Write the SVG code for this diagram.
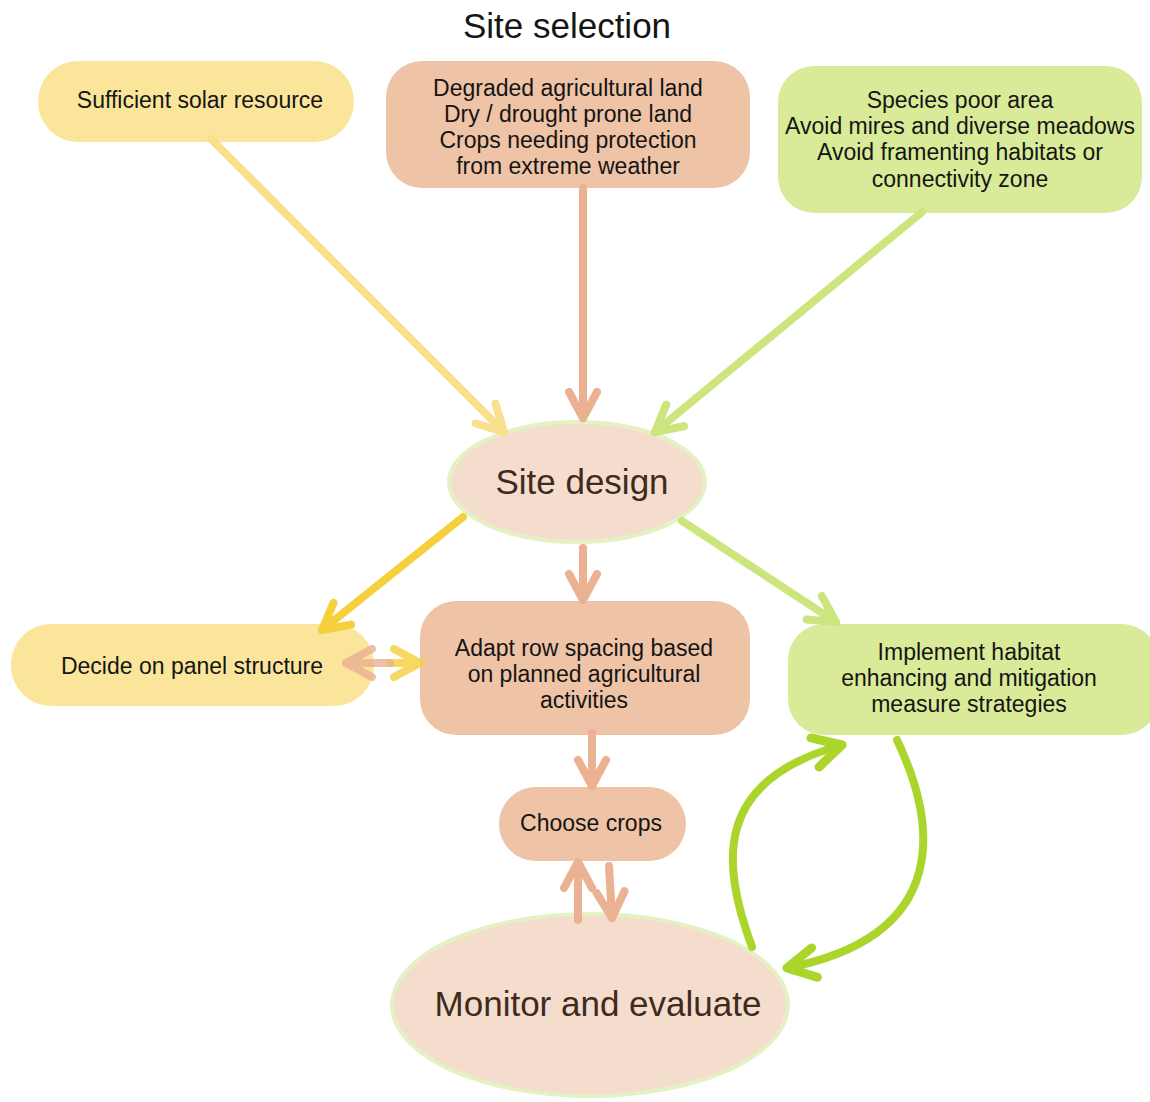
<svg xmlns="http://www.w3.org/2000/svg" width="1150" height="1102" viewBox="0 0 1150 1102">
<style>
text{font-family:"Liberation Sans",Arial,sans-serif;text-anchor:middle;fill:#151515}
.t{font-size:23px}
.big{font-size:35px;fill:#3f2a1e}
.y{fill:#fbe59b}
.s{fill:#efc3a5}
.g{fill:#d9eb98}
.el{fill:#f5ddce;stroke:#e4f1c2;stroke-width:4}
.c{fill:none;stroke-width:8;stroke-linecap:round}
</style>
<defs>
<marker id="mY" markerUnits="userSpaceOnUse" viewBox="-40 -20 44 40" refX="0" refY="0" markerWidth="44" markerHeight="40" orient="auto" overflow="visible"><path d="M-26 -14 L0 0 L-26 14" fill="none" stroke="#f8df88" stroke-width="8" stroke-linecap="round" stroke-linejoin="round"/></marker>
<marker id="mS" markerUnits="userSpaceOnUse" viewBox="-40 -20 44 40" refX="0" refY="0" markerWidth="44" markerHeight="40" orient="auto" overflow="visible"><path d="M-26 -14 L0 0 L-26 14" fill="none" stroke="#eab192" stroke-width="8" stroke-linecap="round" stroke-linejoin="round"/></marker>
<marker id="mG" markerUnits="userSpaceOnUse" viewBox="-40 -20 44 40" refX="0" refY="0" markerWidth="44" markerHeight="40" orient="auto" overflow="visible"><path d="M-26 -14 L0 0 L-26 14" fill="none" stroke="#cde57f" stroke-width="8" stroke-linecap="round" stroke-linejoin="round"/></marker>
<marker id="mD" markerUnits="userSpaceOnUse" viewBox="-40 -20 44 40" refX="0" refY="0" markerWidth="44" markerHeight="40" orient="auto" overflow="visible"><path d="M-26 -14 L0 0 L-26 14" fill="none" stroke="#f5cf3c" stroke-width="8" stroke-linecap="round" stroke-linejoin="round"/></marker>
<marker id="mB" markerUnits="userSpaceOnUse" viewBox="-40 -20 44 40" refX="0" refY="0" markerWidth="44" markerHeight="40" orient="auto" overflow="visible"><path d="M-28 -15 L0 0 L-28 15" fill="none" stroke="#acd52c" stroke-width="9" stroke-linecap="round" stroke-linejoin="round"/></marker>
</defs>
<rect width="1150" height="1102" fill="#ffffff"/>
<text x="567" y="38" style="font-size:35px">Site selection</text>

<g id="solar"><rect class="y" x="38" y="61" width="316" height="81" rx="40"/><text class="t" x="200" y="108">Sufficient solar resource</text></g>
<g id="land"><rect class="s" x="386" y="61" width="364" height="127" rx="36"/>
<text class="t" x="568" y="96">Degraded agricultural land</text><text class="t" x="568" y="122">Dry / drought prone land</text><text class="t" x="568" y="148">Crops needing protection</text><text class="t" x="568" y="174">from extreme weather</text></g>
<g id="species"><rect class="g" x="778" y="66" width="364" height="147" rx="36"/>
<text class="t" x="960" y="108">Species poor area</text><text class="t" x="960" y="134">Avoid mires and diverse meadows</text><text class="t" x="960" y="160">Avoid framenting habitats or</text><text class="t" x="960" y="187">connectivity zone</text></g>
<g id="sitedesign"><ellipse class="el" cx="577" cy="482" rx="128" ry="60"/><text class="big" x="582" y="494">Site design</text></g>
<g id="panel"><rect class="y" x="11" y="624" width="363" height="82" rx="40"/><text class="t" x="192" y="674">Decide on panel structure</text></g>
<g id="rowspacing"><rect class="s" x="420" y="601" width="330" height="134" rx="36"/>
<text class="t" x="584" y="656">Adapt row spacing based</text><text class="t" x="584" y="682">on planned agricultural</text><text class="t" x="584" y="708">activities</text></g>
<g id="habitat"><rect class="g" x="788" y="624" width="370" height="111" rx="36"/>
<text class="t" x="969" y="660">Implement habitat</text><text class="t" x="969" y="686">enhancing and mitigation</text><text class="t" x="969" y="712">measure strategies</text></g>
<g id="crops"><rect class="s" x="499" y="787" width="187" height="74" rx="37"/><text class="t" x="591" y="831">Choose crops</text></g>
<g id="monitor"><ellipse class="el" cx="590" cy="1005" rx="198" ry="91"/><text class="big" x="598" y="1016">Monitor and evaluate</text></g>

<g id="connectors">
<path class="c" d="M211 139 L504 432" stroke="#f8df88" marker-end="url(#mY)" opacity="0.95"/>
<path class="c" d="M583 188 L583 418" stroke="#eab192" marker-end="url(#mS)"/>
<path class="c" d="M922 212 L655 432" stroke="#cde57f" marker-end="url(#mG)"/>
<path class="c" d="M463 517 L322 630" stroke="#f5cf3c" marker-end="url(#mD)"/>
<path class="c" d="M583 548 L583 600" stroke="#eab192" marker-end="url(#mS)"/>
<path class="c" d="M682 521 L836 622" stroke="#cde57f" marker-end="url(#mG)"/>
<path class="c" d="M390 663 L420 663" stroke="#f5cf3c" marker-end="url(#mD)" opacity="0.8"/>
<path class="c" d="M390 663 L346 663" stroke="#eab192" marker-end="url(#mS)" opacity="0.8"/>
<path class="c" d="M592 733 L592 786" stroke="#eab192" marker-end="url(#mS)"/>
<path class="c" d="M578 920 L578 862" stroke="#eab192" marker-end="url(#mS)"/>
<path class="c" d="M609 866 L612 918" stroke="#eab192" marker-end="url(#mS)"/>
<path class="c" d="M752 947 C720 860 715 780 842 745" stroke="#acd52c" stroke-width="9" marker-end="url(#mB)"/>
<path class="c" d="M897 740 C935 820 955 935 787 968" stroke="#acd52c" stroke-width="9" marker-end="url(#mB)"/>
</g>
</svg>
